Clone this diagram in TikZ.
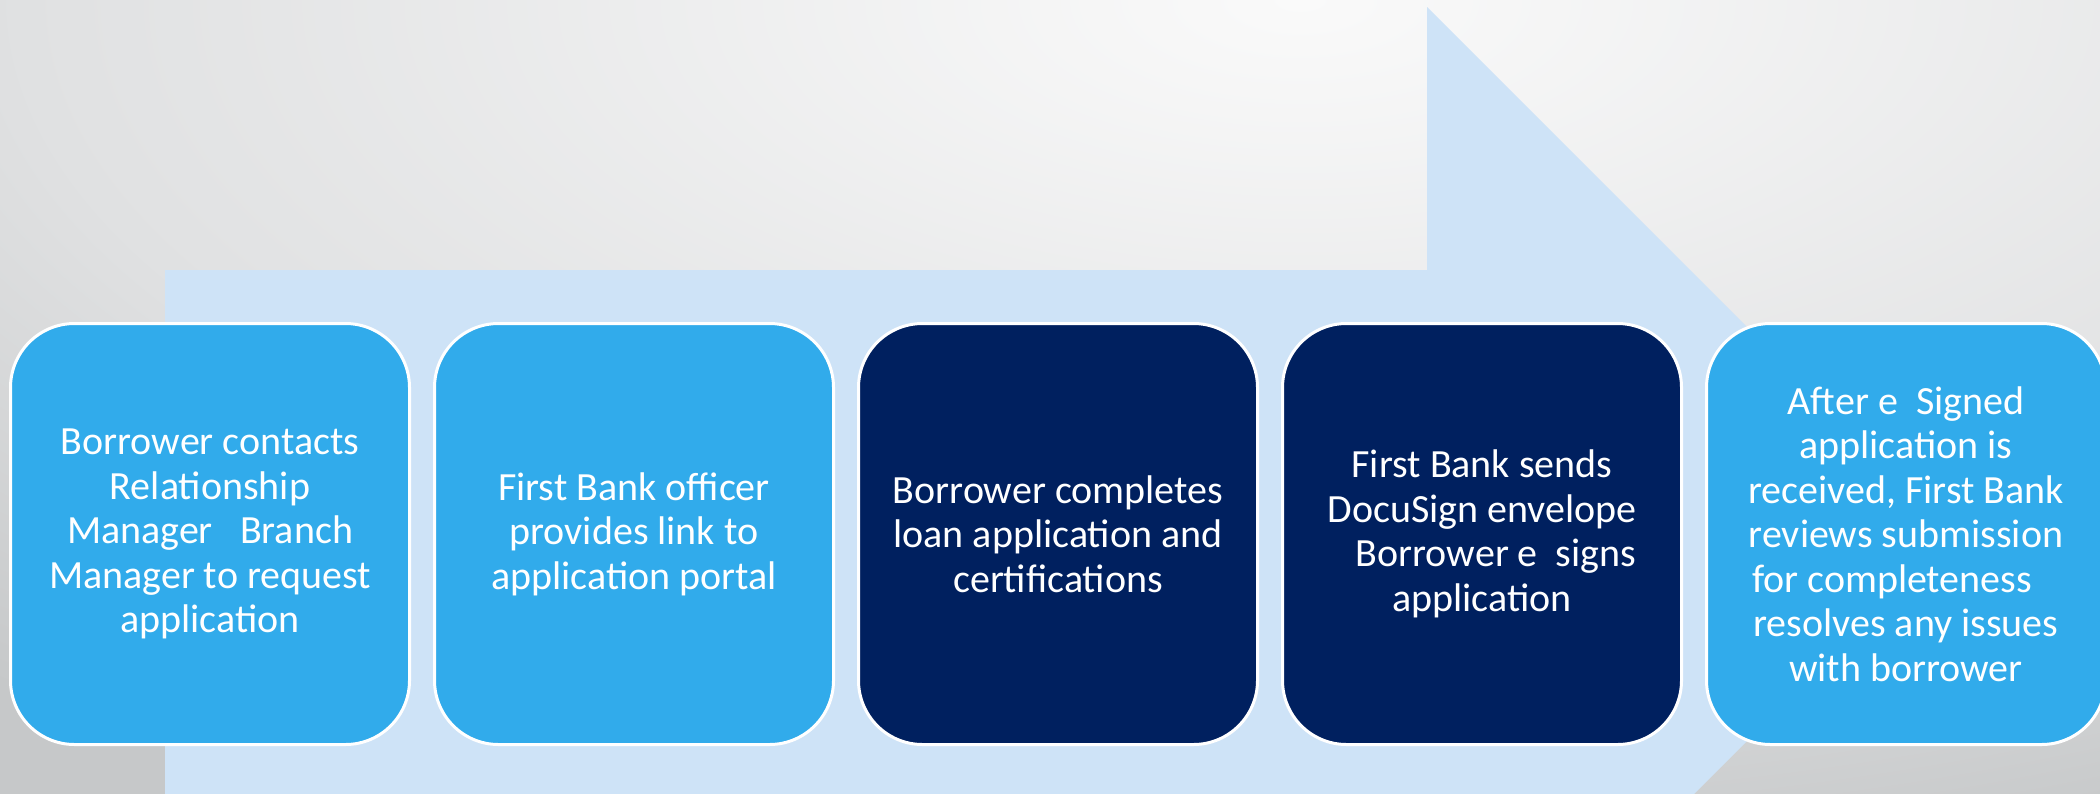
\documentclass[tikz,border=0pt]{standalone}
\usepackage{fontspec}
\setmainfont{Carlito}
\definecolor{arrowblue}{HTML}{CEE3F7}
\definecolor{lightbox}{HTML}{31ABEB}
\definecolor{darkbox}{HTML}{00205F}
\definecolor{bgA}{HTML}{FAFAFA}
\definecolor{bgB}{HTML}{E0E1E2}
\definecolor{bgC}{HTML}{C6C8C9}
\pgfdeclareradialshading{bgshade}{\pgfpoint{0bp}{0bp}}{color(0bp)=(bgA); color(16bp)=(bgB); color(25bp)=(bgC); color(50bp)=(bgC)}
\tikzset{
  stepbox/.style={rounded corners=64pt, draw=white, line width=3pt,
    minimum width=399pt, minimum height=421pt, text=white, align=center,
    font=\fontsize{40}{44.5}\selectfont, inner sep=0pt},
  lightstep/.style={stepbox, fill=lightbox},
  darkstep/.style={stepbox, fill=darkbox}
}
\begin{document}
\begin{tikzpicture}[x=1pt,y=-1pt]
\useasboundingbox (0,0) rectangle (2100,793);
\clip (0,0) rectangle (2100,793);
\fill[bgC] (0,0) rectangle (2100,793);
\shade[shading=bgshade] (-700,-900) rectangle (3300,900);
\fill[arrowblue] (165,270) -- (1427,270) -- (1427,7) -- (1954,534) -- (1427,1061) -- (1427,798) -- (165,798) -- cycle;
\node[lightstep] (s1) at (210,534) {Borrower contacts\\Relationship\\Manager\ \ \ Branch\\Manager to request\\application};
\node[lightstep] (s2) at (634,534) {First Bank officer\\provides link to\\application portal};
\node[darkstep] (s3) at (1058,534) {Borrower completes\\loan application and\\certifications};
\node[darkstep] (s4) at (1482,534) {First Bank sends\\DocuSign envelope\\\hspace*{0.7em}Borrower e\ \ signs\\application};
\node[lightstep] (s5) at (1906,534) {After e\ \ Signed\\application is\\received, First Bank\\reviews submission\\for completeness\hspace*{0.7em}\mbox{}\\resolves any issues\\with borrower};
\end{tikzpicture}
\end{document}
